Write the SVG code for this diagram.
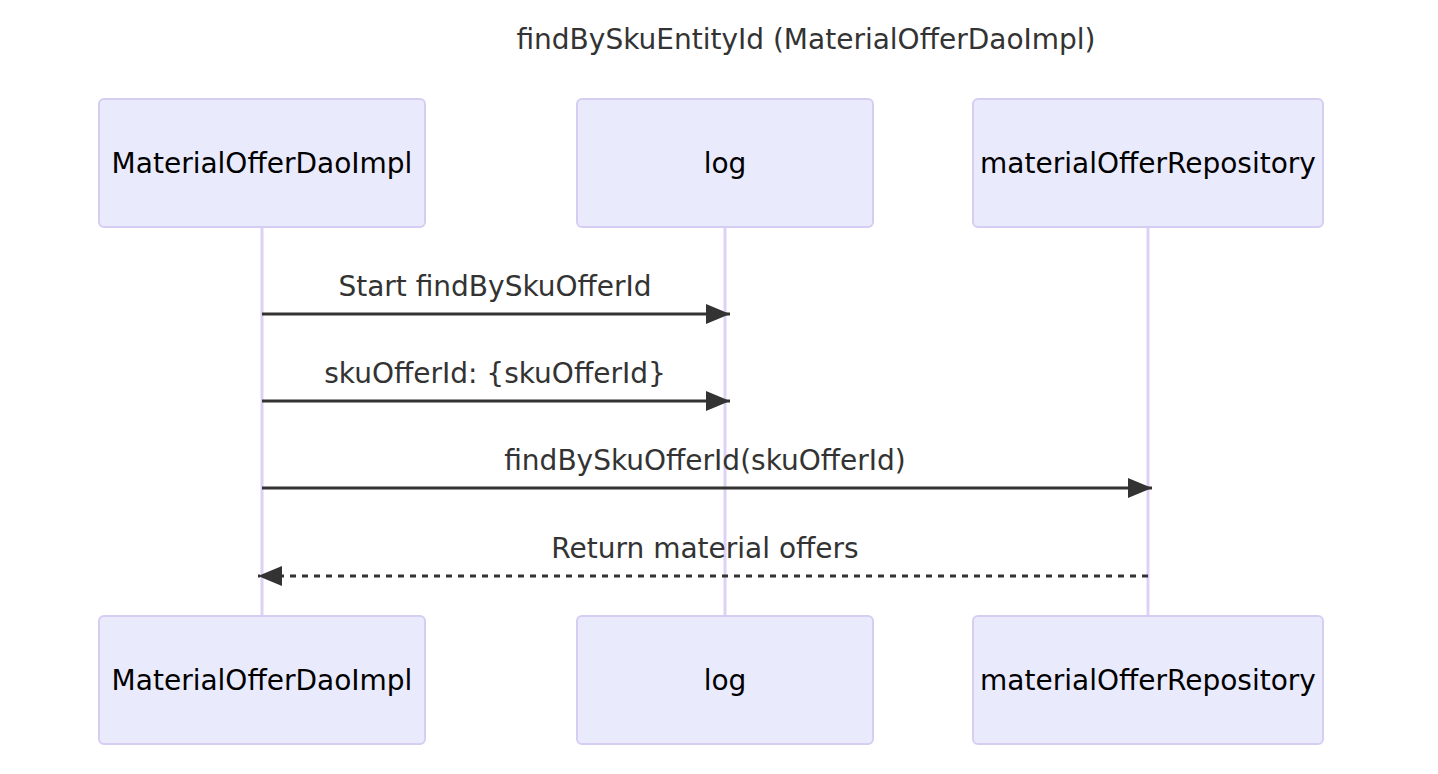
<svg xmlns="http://www.w3.org/2000/svg" width="1438" height="774" viewBox="0 0 1438 774">
<defs>
<style>
.actor{fill:#eaeafd;stroke:#d6cdf3;stroke-width:2}
.atext{font-family:"DejaVu Sans",sans-serif;font-size:28px;fill:#000;text-anchor:middle;dominant-baseline:central}
.life{stroke:#ddd2f5;stroke-width:3}
.msg{stroke:#333;stroke-width:3;fill:none}
.dash{stroke-dasharray:6 6}
.mtext{font-family:"DejaVu Sans",sans-serif;font-size:28px;fill:#333;text-anchor:middle}
.title{font-family:"DejaVu Sans",sans-serif;font-size:28px;fill:#333;text-anchor:middle}
</style>
<marker id="head" viewBox="0 0 24 20" refX="24" refY="10" markerWidth="24" markerHeight="20" markerUnits="userSpaceOnUse" orient="auto">
<path d="M0,0 L24,10 L0,20 z" fill="#333"/>
</marker>
</defs>
<rect width="1438" height="774" fill="#fff"/>
<text class="title" x="806" y="49">findBySkuEntityId (MaterialOfferDaoImpl)</text>
<g id="lifelines">
<line class="life" x1="262" y1="227" x2="262" y2="616"/>
<line class="life" x1="725" y1="227" x2="725" y2="616"/>
<line class="life" x1="1148" y1="227" x2="1148" y2="616"/>
</g>
<g id="actor-MaterialOfferDaoImpl">
<rect class="actor" x="99" y="99" width="326" height="128" rx="5"/>
<text class="atext" x="262" y="163">MaterialOfferDaoImpl</text>
</g>
<g id="actor-log">
<rect class="actor" x="577" y="99" width="296" height="128" rx="5"/>
<text class="atext" x="725" y="163">log</text>
</g>
<g id="actor-materialOfferRepository">
<rect class="actor" x="973" y="99" width="350" height="128" rx="5"/>
<text class="atext" x="1148" y="163">materialOfferRepository</text>
</g>
<g id="actor-MaterialOfferDaoImpl-bottom">
<rect class="actor" x="99" y="616" width="326" height="128" rx="5"/>
<text class="atext" x="262" y="680">MaterialOfferDaoImpl</text>
</g>
<g id="actor-log-bottom">
<rect class="actor" x="577" y="616" width="296" height="128" rx="5"/>
<text class="atext" x="725" y="680">log</text>
</g>
<g id="actor-materialOfferRepository-bottom">
<rect class="actor" x="973" y="616" width="350" height="128" rx="5"/>
<text class="atext" x="1148" y="680">materialOfferRepository</text>
</g>
<g id="connectors">
<line class="msg" x1="262" y1="314" x2="730" y2="314" marker-end="url(#head)"/>
<text class="mtext" x="495" y="296">Start findBySkuOfferId</text>
<line class="msg" x1="262" y1="401" x2="730" y2="401" marker-end="url(#head)"/>
<text class="mtext" x="495" y="383">skuOfferId: {skuOfferId}</text>
<line class="msg" x1="262" y1="488" x2="1152" y2="488" marker-end="url(#head)"/>
<text class="mtext" x="705" y="470">findBySkuOfferId(skuOfferId)</text>
<line class="msg dash" x1="1148" y1="576" x2="258" y2="576" marker-end="url(#head)"/>
<text class="mtext" x="705" y="558">Return material offers</text>
</g>
</svg>
